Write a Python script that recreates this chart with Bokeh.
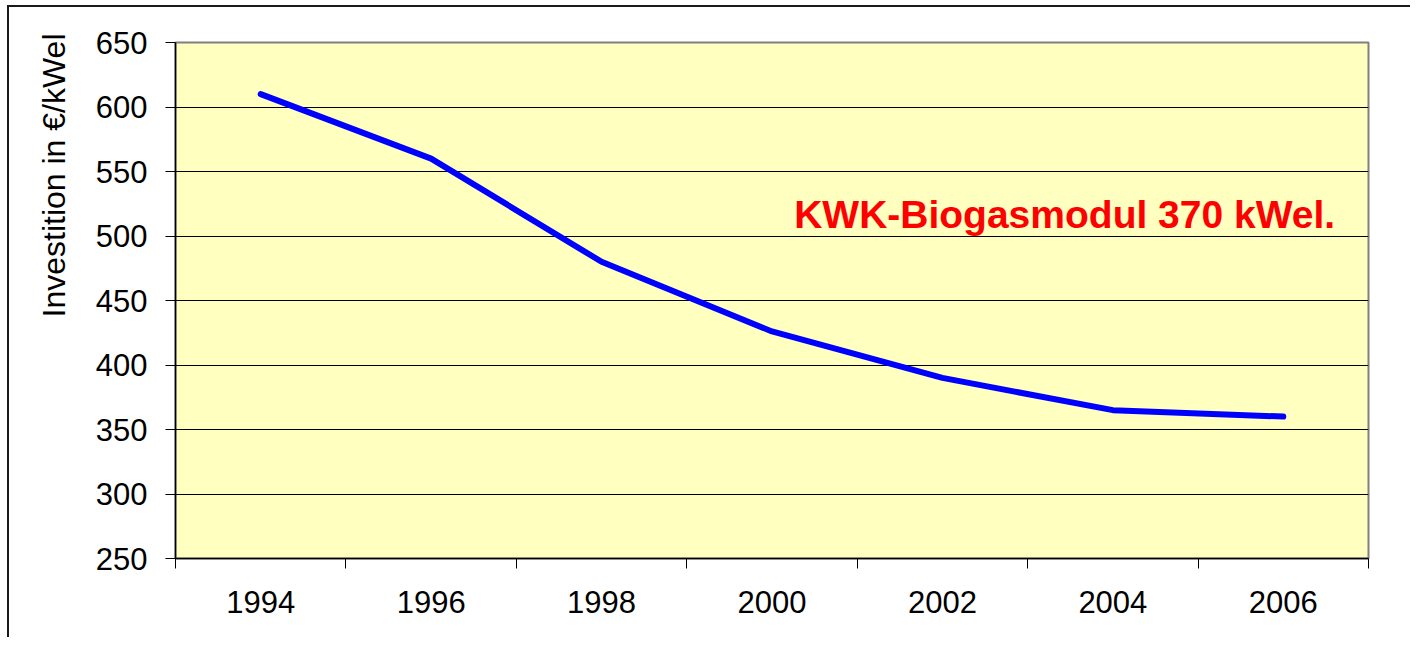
import math
from bokeh.plotting import figure
from bokeh.models import Range1d, FixedTicker, Label, Title
from bokeh.embed import file_html
from bokeh.resources import INLINE

# ---- data ----
years = [1994, 1996, 1998, 2000, 2002, 2004, 2006]
x_labels = ["1994", "1996", "1998", "2000", "2002", "2004", "2006"]
investment = [610, 560, 480, 426, 390, 365, 360]
y_ticks = [250, 300, 350, 400, 450, 500, 550, 600, 650]
y_title = "Investition in €/kWel"
note = "KWK-Biogasmodul 370 kWel."

FONT = "Liberation Sans"

p = figure(width=1410, height=637, output_backend="svg", toolbar_location=None,
           x_range=Range1d(1993, 2007), y_range=Range1d(250, 650),
           min_border_left=175, min_border_top=42, min_border_right=42, min_border_bottom=79)

p.background_fill_color = "#FFFFC0"
p.border_fill_color = None
p.outline_line_color = "#808080"
p.outline_line_width = 2

# outer chart-area border (left and top edges), drawn as element background
p.styles = {
    "background": ("linear-gradient(#1a1a1a, #1a1a1a) 7px 5px / 2px 100% no-repeat, "
                   "linear-gradient(#1a1a1a, #1a1a1a) 7px 5px / 100% 2px no-repeat, white"),
}

# line
p.line(years, investment, line_color="#0000FF", line_width=6,
       line_join="round", line_cap="round")

# x axis: labels at centres, tick marks at category boundaries
xa = p.xaxis[0]
xa.ticker = FixedTicker(ticks=years, minor_ticks=[y - 1 for y in years] + [years[-1] + 1])
xa.major_label_overrides = {yr: lab for yr, lab in zip(years, x_labels)}
xa.major_tick_out = 0
xa.major_tick_in = 0
xa.minor_tick_out = 10
xa.minor_tick_in = 0
xa.minor_tick_line_color = "black"
xa.axis_line_color = "black"
xa.axis_line_width = 1.5
xa.major_label_text_font = FONT
xa.major_label_text_font_size = "31px"
xa.major_label_text_color = "black"
xa.major_label_standoff = 22

ya = p.yaxis[0]
ya.ticker = FixedTicker(ticks=y_ticks)
ya.major_tick_out = 10
ya.major_tick_in = 0
ya.minor_tick_out = 0
ya.minor_tick_in = 0
ya.major_tick_line_color = "black"
ya.axis_line_color = "black"
ya.axis_line_width = 1.5
ya.major_label_text_font = FONT
ya.major_label_text_font_size = "31px"
ya.major_label_text_color = "black"
ya.major_label_standoff = 18

p.xgrid.grid_line_color = None
p.ygrid.ticker = FixedTicker(ticks=y_ticks[:-1])
p.ygrid.grid_line_color = "black"
p.ygrid.grid_line_width = 1

# y axis title (placed toward the top, as in the reference)
p.add_layout(Title(text=y_title, align="right", offset=-9,
                   text_font=FONT, text_font_size="32px", text_font_style="normal",
                   text_color="black", standoff=41), "left")

# annotation
p.add_layout(Label(x=2000.26, y=517, text=note, text_align="left",
                   text_baseline="alphabetic", text_font=FONT,
                   text_font_size="39px", text_font_style="bold",
                   text_color="#FF0000"))

open("out.html", "w").write(file_html(p, INLINE))
